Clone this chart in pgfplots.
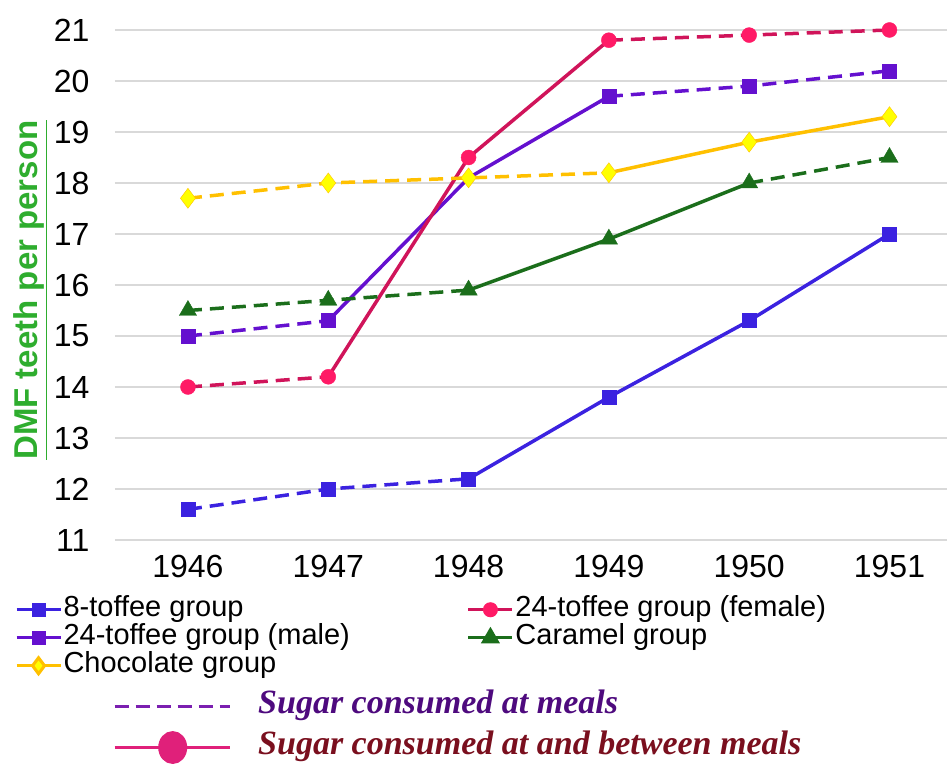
\documentclass[border=0pt]{standalone}
\usepackage{fontspec}
\setmainfont{Liberation Sans}
\newfontfamily\sugarfont{Liberation Serif}
\usepackage{pgfplots}
\pgfplotsset{compat=1.18}
\definecolor{cEight}{HTML}{3B22E0}
\definecolor{cFemLine}{HTML}{D0145A}
\definecolor{cFemMark}{HTML}{FF1A66}
\definecolor{cMale}{HTML}{6410CF}
\definecolor{cCaramel}{HTML}{1B6E1B}
\definecolor{cChocLine}{HTML}{FFC000}
\definecolor{cChocMark}{HTML}{FFFF00}
\definecolor{cLabel}{HTML}{2EAD2E}
\definecolor{cSugarM}{HTML}{7B1FB0}
\definecolor{cSugarMText}{HTML}{4E0A7E}
\definecolor{cSugarB}{HTML}{E0207A}
\definecolor{cSugarBText}{HTML}{7A0F1E}
\pgfplotsset{
  seg/.style={line width=3.5pt, forget plot},
  dashseg/.style={seg, dash pattern=on 14pt off 8pt},
}
\begin{document}
\begin{tikzpicture}
\useasboundingbox (0,0) rectangle (947pt,763pt);
\begin{axis}[
  at={(115pt,223pt)}, anchor=south west,
  scale only axis, width=832pt, height=510pt,
  xmin=1945.48, xmax=1951.41, ymin=11, ymax=21,
  xtick={1946,1947,1948,1949,1950,1951},
  ytick={11,12,13,14,15,16,17,18,19,20,21},
  /pgf/number format/1000 sep={},
  /pgf/number format/assume math mode=true,
  clip=false,
  axis line style={draw=none},
  major tick length=0pt,
  ymajorgrids,
  grid style={draw=black!15, line width=1.2pt},
  tick label style={font=\fontsize{32}{34}\selectfont},
  yticklabel style={xshift=-22pt},
  xticklabel style={yshift=-12pt},
  ylabel={\underline{DMF teeth per person}},
  ylabel style={at={(axis description cs:-0.102,0.49)}, anchor=center,
    font=\bfseries\fontsize{33}{36}\selectfont, color=cLabel},
  legend columns=2,
  legend style={at={(axis description cs:-0.124,-0.105)}, anchor=north west,
    draw=none, fill=none, font=\fontsize{29}{31}\selectfont,
    nodes={inner sep=0pt, text height=21pt, text depth=7pt},
    cells={anchor=west},
    /tikz/every even column/.append style={column sep=117pt}},
  legend image code/.code={
    \draw[mark repeat=2, mark phase=2, #1] plot coordinates {(0pt,0pt) (22pt,0pt) (44pt,0pt)};
    \path[draw=none] (0pt,0pt) -- (47pt,0pt);
  },
]
\addlegendimage{cEight, line width=3pt, mark=square*, mark size=5.5pt, mark options={fill=cEight}}
\addlegendentry{8-toffee group}
\addlegendimage{cFemLine, line width=3pt, mark=*, mark size=6pt, mark options={fill=cFemMark, draw=cFemMark}}
\addlegendentry{24-toffee group (female)}
\addlegendimage{cMale, line width=3pt, mark=square*, mark size=5.5pt, mark options={fill=cMale}}
\addlegendentry{24-toffee group (male)}
\addlegendimage{cCaramel, line width=3pt, mark=triangle*, mark size=8pt, mark options={fill=cCaramel}}
\addlegendentry{Caramel group}
\addlegendimage{cChocLine, line width=3pt, mark=diamond*, mark size=8pt, mark options={fill=cChocMark}}
\addlegendentry{Chocolate group}

% 8-toffee group
\addplot[cEight, dashseg] coordinates {(1946,11.6) (1947,12.0) (1948,12.2)};
\addplot[cEight, seg] coordinates {(1948,12.2) (1949,13.8) (1950,15.3) (1951,17.0)};
% 24-toffee group (male)
\addplot[cMale, dashseg] coordinates {(1946,15.0) (1947,15.3)};
\addplot[cMale, seg] coordinates {(1947,15.3) (1948,18.1) (1949,19.7)};
\addplot[cMale, dashseg] coordinates {(1949,19.7) (1950,19.9) (1951,20.2)};
% 24-toffee group (female)
\addplot[cFemLine, dashseg] coordinates {(1946,14.0) (1947,14.2)};
\addplot[cFemLine, seg] coordinates {(1947,14.2) (1948,18.5) (1949,20.8)};
\addplot[cFemLine, dashseg] coordinates {(1949,20.8) (1950,20.9) (1951,21.0)};
% Caramel group
\addplot[cCaramel, dashseg] coordinates {(1946,15.5) (1947,15.7) (1948,15.9)};
\addplot[cCaramel, seg] coordinates {(1948,15.9) (1949,16.9) (1950,18.0)};
\addplot[cCaramel, dashseg] coordinates {(1950,18.0) (1951,18.5)};
% Chocolate group
\addplot[cChocLine, dashseg] coordinates {(1946,17.7) (1947,18.0) (1948,18.1) (1949,18.2)};
\addplot[cChocLine, seg] coordinates {(1949,18.2) (1950,18.8) (1951,19.3)};

% markers (the male 1948 mark is hidden in the reference)
\addplot[only marks, forget plot, mark=square*, mark size=7pt, draw=cEight, fill=cEight]
  coordinates {(1946,11.6) (1947,12.0) (1948,12.2) (1949,13.8) (1950,15.3) (1951,17.0)};
\addplot[only marks, forget plot, mark=square*, mark size=7pt, draw=cMale, fill=cMale]
  coordinates {(1946,15.0) (1947,15.3) (1949,19.7) (1950,19.9) (1951,20.2)};
\addplot[only marks, forget plot, mark=*, mark size=7.5pt, draw=cFemMark, fill=cFemMark]
  coordinates {(1946,14.0) (1947,14.2) (1948,18.5) (1949,20.8) (1950,20.9) (1951,21.0)};
\addplot[only marks, forget plot, mark=triangle*, mark size=10pt, draw=cCaramel, fill=cCaramel]
  coordinates {(1946,15.5) (1947,15.7) (1948,15.9) (1949,16.9) (1950,18.0) (1951,18.5)};
\addplot[only marks, forget plot, mark=diamond*, mark size=10pt, draw=cChocLine, fill=cChocMark]
  coordinates {(1946,17.7) (1947,18.0) (1948,18.1) (1949,18.2) (1950,18.8) (1951,19.3)};
\end{axis}

% second legend: line styles
\begin{axis}[
  at={(115pt,223pt)}, anchor=south west,
  scale only axis, width=832pt, height=510pt,
  hide axis, xmin=0, xmax=1, ymin=0, ymax=1,
  legend style={at={(axis description cs:-0.006,-0.282)}, anchor=north west,
    draw=none, fill=none, font=\sugarfont\itshape\bfseries\fontsize{34}{36}\selectfont,
    nodes={inner sep=0pt, text height=27pt, text depth=14pt},
    cells={anchor=west},
    /tikz/every odd column/.append style={column sep=27pt}},
  legend image code/.code={
    \draw[mark repeat=2, mark phase=2, #1] plot coordinates {(0pt,0pt) (58pt,0pt) (115pt,0pt)};
  },
]
\addlegendimage{cSugarM, line width=3pt, dash pattern=on 14pt off 7pt}
\addlegendentry{\textcolor{cSugarMText}{Sugar consumed at meals}}
\addlegendimage{cSugarB, line width=3pt, mark=*, mark size=13pt, mark options={yscale=1.15, fill=cSugarB}}
\addlegendentry{\textcolor{cSugarBText}{Sugar consumed at and between meals}}
\end{axis}
\end{tikzpicture}
\end{document}
